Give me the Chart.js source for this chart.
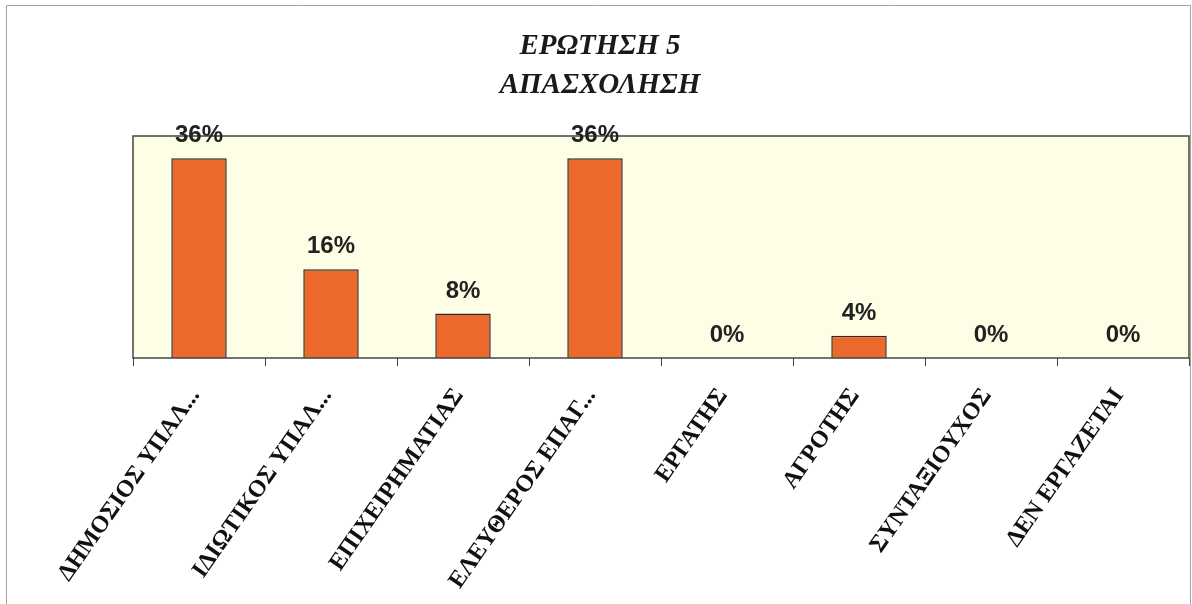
<!DOCTYPE html>
<html lang="el">

<head>
  <meta charset="UTF-8" />
  <title>Ερώτηση 5</title>
  <script src="https://cdn.jsdelivr.net/npm/chart.js"></script>
  <style>
    body { margin: 0; background: #fff; }
    canvas { display: block; }
  </style>
</head>

<body>
  <canvas id="barChart" width="1192" height="604"></canvas>

  <script>
    // dados do gráfico
    var tituloLinhas = ['ΕΡΩΤΗΣΗ 5', 'ΑΠΑΣΧΟΛΗΣΗ']
    var categorias = [
      'ΔΗΜΟΣΙΟΣ ΥΠΑΛ...',
      'ΙΔΙΩΤΙΚΟΣ ΥΠΑΛ...',
      'ΕΠΙΧΕΙΡΗΜΑΤΙΑΣ',
      'ΕΛΕΥΘΕΡΟΣ ΕΠΑΓ...',
      'ΕΡΓΑΤΗΣ',
      'ΑΓΡΟΤΗΣ',
      'ΣΥΝΤΑΞΙΟΥΧΟΣ',
      'ΔΕΝ ΕΡΓΑΖΕΤΑΙ'
    ]
    var percentuais = [36, 16, 8, 36, 0, 4, 0, 0]
    var eixoMax = 40

    // fundo da área, moldura, título e rótulos das barras
    const desenhoExtra = {
      id: 'desenhoExtra',
      beforeDraw(chart) {
        const { ctx, chartArea } = chart
        ctx.save()
        ctx.strokeStyle = '#a0a0a0'
        ctx.lineWidth = 1
        ctx.beginPath()
        ctx.moveTo(6.5, 604)
        ctx.lineTo(6.5, 5.5)
        ctx.lineTo(1190.5, 5.5)
        ctx.lineTo(1190.5, 604)
        ctx.stroke()

        ctx.fillStyle = '#fefee6'
        ctx.fillRect(chartArea.left, chartArea.top, chartArea.right - chartArea.left, chartArea.bottom - chartArea.top)

        ctx.fillStyle = '#1a1a1a'
        ctx.font = 'italic bold 29px "Liberation Serif", "DejaVu Serif", serif'
        ctx.textAlign = 'center'
        ctx.textBaseline = 'middle'
        tituloLinhas.forEach((linha, i) => {
          ctx.fillText(linha, 600, 47 + i * 39)
        })
        ctx.restore()
      },
      afterDatasetsDraw(chart) {
        const { ctx, chartArea } = chart
        ctx.save()
        ctx.strokeStyle = '#444'
        ctx.lineWidth = 1.5
        ctx.strokeRect(chartArea.left, chartArea.top, chartArea.right - chartArea.left, chartArea.bottom - chartArea.top)

        ctx.fillStyle = '#222'
        ctx.font = 'bold 24px "Liberation Sans", Arial, sans-serif'
        ctx.textAlign = 'center'
        ctx.textBaseline = 'alphabetic'
        const meta = chart.getDatasetMeta(0)
        meta.data.forEach((barra, i) => {
          ctx.fillText(percentuais[i] + '%', barra.x, barra.y - 16)
        })
        ctx.restore()
      }
    }

    const ctx = document.getElementById('barChart')

    new Chart(ctx, {
      type: 'bar',
      data: {
        labels: categorias,
        datasets: [{
          label: 'Απασχόληση',
          data: percentuais,
          backgroundColor: '#ec692b',
          borderColor: '#2a2a2a',
          borderWidth: 1.5,
          borderSkipped: 'bottom',
          categoryPercentage: 1,
          barPercentage: 0.42
        }]
      },
      plugins: [desenhoExtra],
      options: {
        responsive: false,
        animation: false,
        layout: {
          padding: { top: 136, left: 133, right: 3, bottom: 0 }
        },
        plugins: {
          legend: { display: false },
          title: { display: false },
          tooltip: { enabled: false }
        },
        scales: {
          y: {
            display: false,
            min: 0,
            max: eixoMax
          },
          x: {
            offset: true,
            afterFit: function (scale) {
              scale.height = 246
            },
            grid: {
              offset: true,
              drawOnChartArea: false,
              drawTicks: true,
              tickLength: 8,
              color: '#444'
            },
            border: { display: false },
            ticks: {
              autoSkip: false,
              minRotation: 55,
              maxRotation: 55,
              padding: 17,
              labelOffset: -4,
              color: '#111',
              font: { family: '"Liberation Serif", "DejaVu Serif", serif', weight: 'bold', size: 24 }
            }
          }
        }
      }
    })
  </script>
</body>

</html>
